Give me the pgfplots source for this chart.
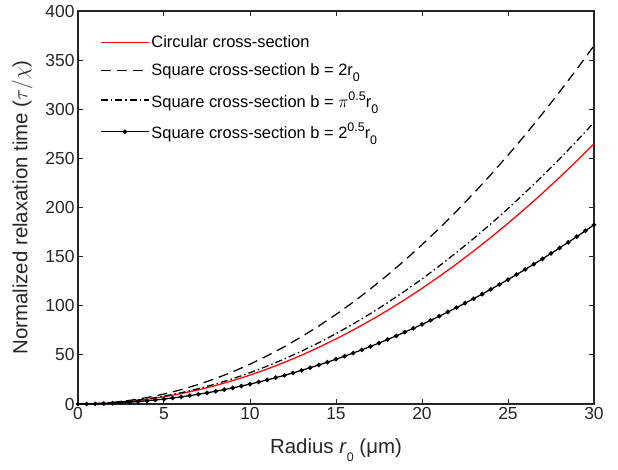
\documentclass[border=0pt]{standalone}
\usepackage{pgfplots}
\pgfplotsset{compat=1.18}
\usepackage{fontspec}
\setmainfont{Liberation Sans}
\definecolor{axgray}{RGB}{38,38,38}
\newcommand{\sups}[1]{\raisebox{0.42em}{\fontsize{12.5}{13}\selectfont #1}}
\newcommand{\subs}[1]{\raisebox{-0.38em}{\fontsize{12.5}{13}\selectfont #1}}
\begin{document}
\begin{tikzpicture}
\begin{axis}[
  at={(0,0)}, anchor=south west,
  scale only axis, width=516bp, height=393bp,
  xmin=0, xmax=30, ymin=0, ymax=400,
  xtick={0,5,10,15,20,25,30},
  ytick={0,50,100,150,200,250,300,350,400},
  tick align=inside,
  major tick length=5bp,
  axis line style={axgray, line width=1.2bp},
  every tick/.style={axgray, line width=1bp},
  tick label style={font=\fontsize{17.5}{20}\selectfont, text=axgray},
  /pgf/number format/assume math mode=true,
  xlabel={Radius \textit{r}\subs{0} (μm)},
  ylabel={Normalized relaxation time ($\tau/\chi$)},
  label style={font=\fontsize{20.5}{24}\selectfont, text=axgray},
  xlabel style={at={(axis description cs:0.5,0)}, anchor=north, yshift=-31bp},
  ylabel style={at={(axis description cs:0,0.5)}, anchor=south, yshift=42bp},
  legend style={draw=none, fill=none, at={(axis cs:1.28,377)}, anchor=north west,
    font=\fontsize{16.5}{19}\selectfont, row sep=10.5bp, inner sep=0pt,
    cells={anchor=west}},
  legend image code/.code={\draw[mark repeat=2,mark phase=2,#1] plot coordinates {(0bp,0bp) (24bp,0bp) (48bp,0bp)};},
  legend cell align=left,
]
\addplot[draw=red, color=red, line width=1.25bp] coordinates {
(0,0)(1,0.294)(2,1.177)(3,2.649)(4,4.709)(5,7.358)(6,10.59)(7,14.42)(8,18.84)(9,23.84)(10,29.43)
(11,35.61)(12,42.38)(13,49.74)(14,57.68)(15,66.22)(16,75.34)(17,85.05)(18,95.35)(19,106.2)(20,117.7)
(21,129.8)(22,142.4)(23,155.7)(24,169.5)(25,183.9)(26,198.9)(27,214.5)(28,230.7)(29,247.5)(30,264.9)};
\addlegendentry{Circular cross-section}
\addplot[black, line width=1.25bp, dash pattern=on 10bp off 6bp] coordinates {
(0,0)(1,0.405)(2,1.621)(3,3.647)(4,6.484)(5,10.13)(6,14.59)(7,19.85)(8,25.94)(9,32.82)(10,40.52)
(11,49.03)(12,58.35)(13,68.48)(14,79.42)(15,91.17)(16,103.7)(17,117.1)(18,131.3)(19,146.3)(20,162.1)
(21,178.7)(22,196.1)(23,214.4)(24,233.4)(25,253.3)(26,273.9)(27,295.4)(28,317.7)(29,340.8)(30,364.7)};
\addlegendentry{Square cross-section b = 2r\subs{0}}
\addplot[black, line width=1.25bp, dash pattern=on 7bp off 3bp on 1.5bp off 3bp] coordinates {
(0,0)(1,0.318)(2,1.273)(3,2.865)(4,5.093)(5,7.958)(6,11.46)(7,15.60)(8,20.37)(9,25.78)(10,31.83)
(11,38.52)(12,45.84)(13,53.79)(14,62.39)(15,71.62)(16,81.49)(17,91.99)(18,103.1)(19,114.9)(20,127.3)
(21,140.4)(22,154.1)(23,168.4)(24,183.3)(25,198.9)(26,215.2)(27,232.0)(28,249.5)(29,267.7)(30,286.5)};
\addlegendentry{Square cross-section b = $\pi$\sups{0.5}r\subs{0}}
\addplot[black, line width=1.25bp, mark=*, mark size=1.6bp, mark options={solid}] coordinates {
(0,0)(0.5,0.0507)(1,0.2026)(1.5,0.4559)(2,0.8104)(2.5,1.266)(3,1.823)(3.5,2.482)(4,3.242)(4.5,4.103)
(5,5.065)(5.5,6.129)(6,7.294)(6.5,8.560)(7,9.927)(7.5,11.40)(8,12.97)(8.5,14.64)(9,16.41)(9.5,18.28)
(10,20.26)(10.5,22.34)(11,24.51)(11.5,26.79)(12,29.17)(12.5,31.66)(13,34.24)(13.5,36.92)(14,39.71)(14.5,42.60)
(15,45.59)(15.5,48.67)(16,51.87)(16.5,55.16)(17,58.55)(17.5,62.05)(18,65.64)(18.5,69.34)(19,73.14)(19.5,77.04)
(20,81.04)(20.5,85.14)(21,89.35)(21.5,93.65)(22,98.06)(22.5,102.57)(23,107.18)(23.5,111.89)(24,116.70)(24.5,121.61)
(25,126.63)(25.5,131.74)(26,136.96)(26.5,142.28)(27,147.70)(27.5,153.22)(28,158.84)(28.5,164.56)(29,170.39)(29.5,176.31)
(30,182.34)};
\addlegendentry{Square cross-section b = 2\sups{0.5}r\subs{0}}
\end{axis}
\pgfresetboundingbox
\path (-78bp,-66bp) rectangle (540bp,404bp);
\end{tikzpicture}
\end{document}
